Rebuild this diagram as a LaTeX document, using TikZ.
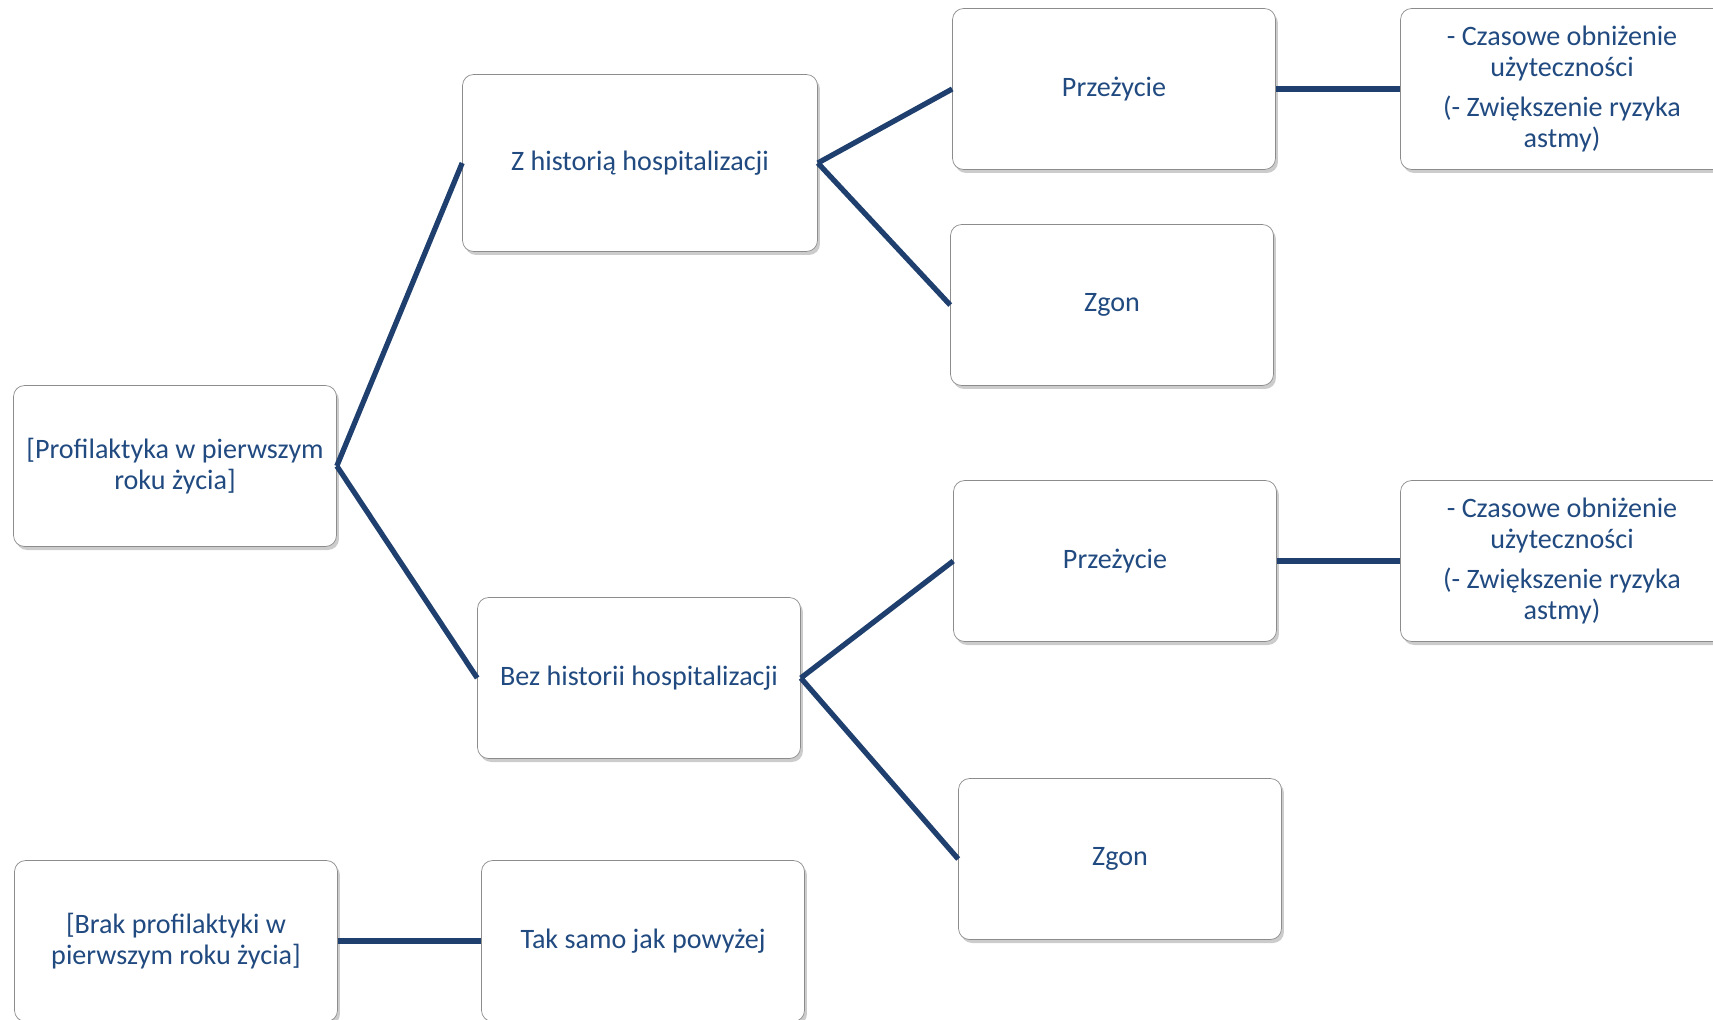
\documentclass[tikz,border=0pt]{standalone}
\usepackage{fontspec}
\setmainfont{Carlito}
\usetikzlibrary{shadows}
\definecolor{navy}{HTML}{1F3F6E}
\definecolor{txt}{HTML}{204A80}

\begin{document}
\begin{tikzpicture}[x=0.02cm,y=-0.02cm,font=\fontsize{16}{17.6}\selectfont,
  box/.style={draw=gray!90,rounded corners=0.22cm,fill=white,minimum width=6.46cm,minimum height=3.22cm,
    align=center,text=txt,drop shadow={shadow xshift=0.05cm,shadow yshift=-0.07cm,opacity=0.4}},
  link/.style={navy,line width=3pt}]
\useasboundingbox (0,0) rectangle (1713,1019);
% decision and branches
\node[box] (prof) at (175,466) {[Profilaktyka w pierwszym\\roku życia]};
\node[box,minimum width=7.1cm,minimum height=3.54cm] (zhist) at (640,163) {Z historią hospitalizacji};
\node[box] (bhist) at (639,678) {Bez historii hospitalizacji};
\node[box] (prz1) at (1114,89) {Przeżycie};
\node[box] (zg1) at (1112,305) {Zgon};
\node[box] (prz2) at (1115,561) {Przeżycie};
\node[box] (zg2) at (1120,859) {Zgon};
\foreach \n/\y in {cz1/89,cz2/561}
  \node[box] (\n) at (1562,\y) {- Czasowe obniżenie\\użyteczności\\[0.2cm](- Zwiększenie ryzyka\\astmy)};
\node[box] (brak) at (176,941) {[Brak profilaktyki w\\pierwszym roku życia]};
\node[box] (tak) at (643,941) {Tak samo jak powyżej};
% connectors
\draw[link] (prof.east) -- (zhist.west) (prof.east) -- (bhist.west);
\draw[link] (zhist.east) -- (prz1.west) (zhist.east) -- (zg1.west);
\draw[link] (bhist.east) -- (prz2.west) (bhist.east) -- (zg2.west);
\draw[link] (prz1) -- (cz1) (prz2) -- (cz2);
\draw[link] (brak) -- (tak);
\end{tikzpicture}
\end{document}
